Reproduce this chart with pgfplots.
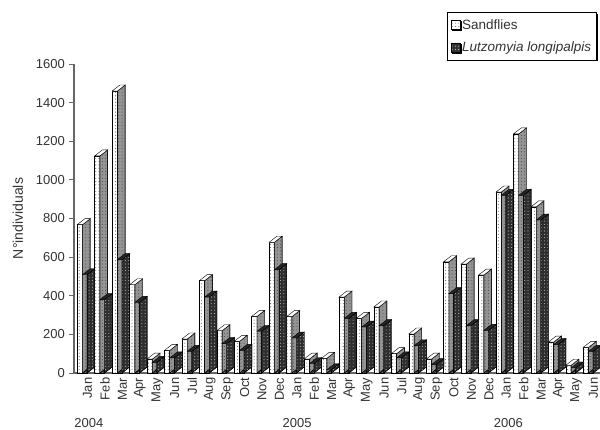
\documentclass[border=0pt]{standalone}
\usepackage{fontspec}
\setmainfont{Liberation Sans}
\usepackage{pgfplots}
\usepackage{pgfplotstable}
\pgfplotsset{compat=1.18}
\usetikzlibrary{patterns,patterns.meta,shadows}

\definecolor{sideA}{gray}{0.58}
\definecolor{sideB}{gray}{0.18}
\definecolor{frontB}{gray}{0.2}
\definecolor{txt}{gray}{0.2}
\definecolor{axisc}{gray}{0.4}

% month index, value
\pgfplotstableread{
x y
0 768
1 1124
2 1460
3 457
4 72
5 117
6 176
7 478
8 219
9 164
10 293
11 677
12 292
13 72
14 76
15 393
16 283
17 342
18 100
19 202
20 72
21 576
22 564
23 507
24 937
25 1238
26 860
27 160
28 40
29 133
}\sandflies
\pgfplotstableread{
x y
0 509
1 380
2 587
3 366
4 55
5 78
6 112
7 393
8 152
9 117
10 216
11 535
12 181
13 48
14 17
15 283
16 238
17 245
18 78
19 141
20 43
21 411
22 245
23 221
24 920
25 920
26 792
27 147
28 26
29 112
}\lutzomyia

% side and top faces of the 3d bars, height comes from \hh
\tikzset{
  dotsfine/.style={pattern={Dots[distance=3.3pt,radius=0.55pt]},pattern color=#1},
}
\pgfdeclareplotmark{faceA}{%
  \path[fill=sideA,draw=black,line width=0.4pt] (0pt,0pt) -- (7.7pt,6pt) -- (7.7pt,\hb pt) -- (0pt,-\hh pt) -- cycle;
  \path[dotsfine=black!70] (0pt,0pt) -- (7.7pt,6pt) -- (7.7pt,\hb pt) -- (0pt,-\hh pt) -- cycle;
  \path[fill=white,draw=black,line width=0.4pt] (-5.3pt,0pt) -- (2.4pt,6pt) -- (7.7pt,6pt) -- (0pt,0pt) -- cycle;
}
\pgfdeclareplotmark{faceB}{%
  \path[fill=sideB,draw=black,line width=0.4pt] (4.6pt,0pt) -- (12.3pt,6pt) -- (12.3pt,\hb pt) -- (4.6pt,-\hh pt) -- cycle;
  \path[dotsfine=white!70!black] (4.6pt,0pt) -- (12.3pt,6pt) -- (12.3pt,\hb pt) -- (4.6pt,-\hh pt) -- cycle;
  \path[fill=black!85,draw=black,line width=0.4pt] (0pt,0pt) -- (7.7pt,6pt) -- (12.3pt,6pt) -- (4.6pt,0pt) -- cycle;
}
\pgfplotsset{
  side faces/.style={
    forget plot, only marks, scatter, scatter src=y,
    visualization depends on={rawy\as\vy},
    scatter/@pre marker code/.code={%
      \pgfmathsetmacro{\hh}{\vy*0.193125}%
      \pgfmathsetmacro{\hb}{6-\hh}%
    },
    scatter/@post marker code/.code={},
    mark=#1,
  },
  square key/.style={legend image code/.code={\draw[##1] (0pt,-4.5pt) rectangle (9pt,4.5pt);}},
}

\begin{document}
\begin{tikzpicture}
\useasboundingbox (0pt,0pt) rectangle (600pt,429pt);
\begin{axis}[
    at={(74pt,56pt)}, anchor=south west,
    scale only axis, width=526pt, height=309pt,
    clip=false,
    xmin=-0.487, xmax=29.656,
    ymin=0, ymax=1600,
    axis x line=bottom, axis y line=left,
    axis line style={-, draw=axisc, line width=1.2pt},
    xtick={0,...,29},
    xticklabels={Jan,Feb,Mar,Apr,May,Jun,Jul,Aug,Sep,Oct,Nov,Dec,Jan,Feb,Mar,Apr,May,Jun,Jul,Aug,Sep,Oct,Nov,Dec,Jan,Feb,Mar,Apr,May,Jun},
    x tick style={draw=none},
    x tick label style={rotate=90, anchor=east, font=\fontsize{13}{13}\selectfont, text=txt, inner sep=0pt, yshift=-5pt},
    ytick={0,200,...,1600},
    y tick style={draw=axisc, line width=0.9pt},
    major tick length=4.5pt,
    tick align=outside,
    y tick label style={font=\fontsize{13}{13}\selectfont, text=txt, inner sep=0pt, xshift=-4.5pt},
    /pgf/number format/assume math mode=true,
    /pgf/number format/1000 sep={},
    ylabel={N°individuals},
    every axis y label/.style={at={(axis description cs:-0.1065,0.5)}, rotate=90, anchor=center, font=\fontsize{14}{14}\selectfont, text=txt},
    legend style={at={(0.9943,1.168)}, anchor=north east, draw=black, line width=0.6pt,
      fill=white, font=\fontsize{13.5}{14}\selectfont, text=txt,
      drop shadow={shadow xshift=1.2pt, shadow yshift=-1.2pt, fill=black, opacity=1},
      row sep=7pt, inner xsep=3.5pt, inner ysep=5pt},
    legend cell align=left,
  ]

  \addplot[side faces=faceA] table {\sandflies};
  \addplot[ybar, bar width=5.3pt, bar shift=-2.65pt, square key, draw=black, line width=0.5pt,
    preaction={fill=white}, dotsfine=black!60] table {\sandflies};
  \addlegendentry{Sandflies}

  \addplot[side faces=faceB] table {\lutzomyia};
  \addplot[ybar, bar width=4.6pt, bar shift=2.3pt, square key, draw=black, line width=0.5pt,
    preaction={fill=frontB}, dotsfine=white!80!black] table {\lutzomyia};
  \addlegendentry{\textit{Lutzomyia longipalpis}}

  \node[text=txt, font=\fontsize{13}{13}\selectfont] at (axis cs:0.37,-259) {2004};
  \node[text=txt, font=\fontsize{13}{13}\selectfont] at (axis cs:12.3,-259) {2005};
  \node[text=txt, font=\fontsize{13}{13}\selectfont] at (axis cs:24.4,-259) {2006};
\end{axis}
\end{tikzpicture}
\end{document}
